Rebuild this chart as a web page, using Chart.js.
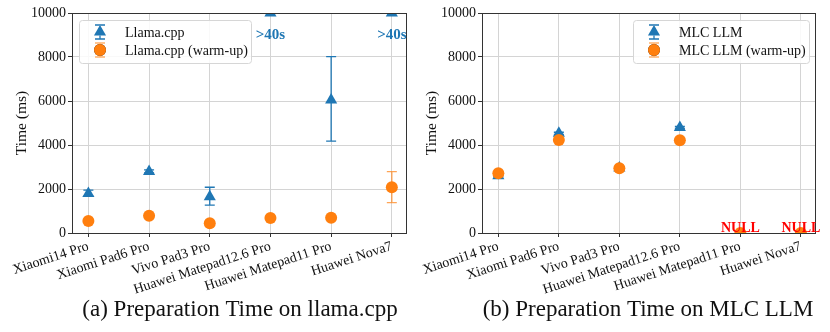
<!DOCTYPE html>
<html>
<head>
<meta charset="utf-8">
<script src="https://cdn.jsdelivr.net/npm/chart.js@4.4.0/dist/chart.umd.min.js"></script>
<style>
  html, body { margin: 0; padding: 0; background: #fff; }
  #wrap { position: relative; width: 830px; height: 332px; overflow: hidden; }
  .box { position: absolute; top: 0; height: 332px; }
</style>
</head>
<body>
<div id="wrap">
  <div class="box" style="left:0;width:415px"><canvas id="llamaChart"></canvas></div>
  <div class="box" style="left:410px;width:420px"><canvas id="mlcChart"></canvas></div>
</div>
<script>
// ---- data ----
const devices = ["Xiaomi14 Pro", "Xiaomi Pad6 Pro", "Vivo Pad3 Pro",
  "Huawei Matepad12.6 Pro", "Huawei Matepad11 Pro", "Huawei Nova7"];
const yTicks = [0, 2000, 4000, 6000, 8000, 10000];

// (a) llama.cpp, values in ms (>40s shown clipped at 10000)
const llamaTime = [1800, 2800, 1650, 10000, 6050, 10000];
const llamaLow = [1680, 2730, 1270, 10000, 4180, 10000];
const llamaHigh = [1950, 2870, 2080, 10000, 8020, 10000];
const llamaWarm = [550, 780, 440, 680, 690, 2080];
const llamaWarmLow = [520, 750, 410, 650, 660, 1380];
const llamaWarmHigh = [580, 810, 470, 710, 720, 2790];
const llamaNotes = [null, null, null, ">40s", null, ">40s"];

// (b) MLC LLM
const mlcTime = [2600, 4530, 2960, 4800, null, null];
const mlcLow = [2560, 4480, 2900, 4760, null, null];
const mlcHigh = [2640, 4580, 3020, 4840, null, null];
const mlcWarm = [2720, 4230, 2940, 4220, 0, 0];
const mlcWarmLow = [2690, 4200, 2910, 4190, 0, 0];
const mlcWarmHigh = [2750, 4260, 2970, 4250, 0, 0];
const mlcNotes = [null, null, null, null, "NULL", "NULL"];

const BLUE = "#1f77b4";
const ORANGE = "#ff7f0e";
const SERIF = '"Liberation Serif", "Times New Roman", serif';

function toPoints(arr) {
  return arr.map((v, i) => ({ x: i, y: v }));
}

// error bars drawn under the markers
const errorBars = {
  id: "errorBars",
  beforeDatasetsDraw(chart) {
    const { ctx, chartArea: a, scales } = chart;
    ctx.save();
    ctx.beginPath();
    ctx.rect(a.left, a.top, a.right - a.left, a.bottom - a.top);
    ctx.clip();
    chart.data.datasets.forEach((ds) => {
      ctx.strokeStyle = ds.errColor;
      ctx.lineWidth = 1.3;
      ds.data.forEach((p, i) => {
        if (p.y == null) return;
        const px = scales.x.getPixelForValue(p.x);
        const y1 = scales.y.getPixelForValue(ds.errLow[i]);
        const y2 = scales.y.getPixelForValue(ds.errHigh[i]);
        ctx.beginPath();
        ctx.moveTo(px, y1); ctx.lineTo(px, y2);
        ctx.moveTo(px - 5, y1); ctx.lineTo(px + 5, y1);
        ctx.moveTo(px - 5, y2); ctx.lineTo(px + 5, y2);
        ctx.stroke();
      });
    });
    ctx.restore();
  },
};

function drawSymbol(ctx, style, color, errColor, x, y) {
  ctx.strokeStyle = errColor;
  ctx.lineWidth = 1.3;
  ctx.beginPath();
  ctx.moveTo(x, y - 7); ctx.lineTo(x, y + 7);
  ctx.moveTo(x - 5, y - 7); ctx.lineTo(x + 5, y - 7);
  ctx.moveTo(x - 5, y + 7); ctx.lineTo(x + 5, y + 7);
  ctx.stroke();
  Chart.helpers.drawPoint(ctx, {
    pointStyle: style, radius: style === "triangle" ? 7 : 6,
    borderWidth: 0, rotation: 0,
  }, x, y);
  ctx.fillStyle = color;
  ctx.fill();
}

// frame, legend, annotations and caption
const decor = {
  id: "decor",
  afterDraw(chart, args, opts) {
    const { ctx, chartArea: a, scales } = chart;
    ctx.save();
    ctx.strokeStyle = "#333";
    ctx.lineWidth = 1;
    ctx.strokeRect(a.left + 0.5, a.top + 0.5, a.right - a.left - 1, a.bottom - a.top);

    // annotations
    ctx.font = "bold " + opts.noteSize + "px " + SERIF;
    ctx.fillStyle = opts.noteColor;
    ctx.textAlign = "center";
    ctx.textBaseline = "alphabetic";
    opts.notes.forEach((t, i) => {
      if (!t) return;
      ctx.fillText(t, scales.x.getPixelForValue(i), scales.y.getPixelForValue(opts.noteY));
    });

    // legend
    const L = opts.legend;
    ctx.fillStyle = "rgba(255,255,255,0.85)";
    ctx.strokeStyle = "#d6d6d6";
    ctx.lineWidth = 1;
    ctx.beginPath();
    ctx.roundRect(L.x + 0.5, L.y + 0.5, L.w, L.h, 3);
    ctx.fill();
    ctx.stroke();
    ctx.font = "14px " + SERIF;
    ctx.textAlign = "left";
    ctx.textBaseline = "middle";
    L.items.forEach((it, k) => {
      const yy = L.y + 12 + k * 18;
      drawSymbol(ctx, it.style, it.color, it.errColor, L.x + 21, yy);
      ctx.fillStyle = "#111";
      ctx.fillText(it.label, L.x + 46, yy + 1);
    });

    // caption
    ctx.font = "23px " + SERIF;
    ctx.fillStyle = "#111";
    ctx.textAlign = "center";
    ctx.textBaseline = "alphabetic";
    ctx.fillText(opts.caption, opts.captionX, 316);
    ctx.restore();
  },
};

function makeChart(id, blue, blueLow, blueHigh, orange, orangeLow, orangeHigh, decorOpts, padRight) {
  return new Chart(document.getElementById(id), {
    type: "scatter",
    data: {
      datasets: [
        {
          label: decorOpts.legend.items[0].label,
          data: toPoints(blue),
          errLow: blueLow, errHigh: blueHigh, errColor: BLUE,
          pointStyle: "triangle", pointRadius: 7, pointHoverRadius: 7,
          backgroundColor: BLUE, borderWidth: 0,
          clip: 0, order: 2,
        },
        {
          label: decorOpts.legend.items[1].label,
          data: toPoints(orange),
          errLow: orangeLow, errHigh: orangeHigh, errColor: "rgba(255,127,14,0.7)",
          pointStyle: "circle", pointRadius: 6, pointHoverRadius: 6,
          backgroundColor: ORANGE, borderWidth: 0,
          clip: 0, order: 1,
        },
      ],
    },
    options: {
      responsive: true,
      maintainAspectRatio: false,
      animation: false,
      layout: { padding: { top: 13, right: padRight, left: 0, bottom: 0 } },
      plugins: {
        legend: { display: false },
        tooltip: { enabled: false },
        decor: decorOpts,
      },
      scales: {
        x: {
          type: "linear",
          min: -0.27,
          max: 5.25,
          afterBuildTicks: (s) => { s.ticks = devices.map((d, i) => ({ value: i })); },
          afterFit: (s) => { s.height = 99; },
          ticks: {
            callback: (v) => devices[v],
            autoSkip: false,
            maxRotation: 18,
            minRotation: 18,
            padding: 1,
            color: "#111",
            font: { family: SERIF, size: 14 },
          },
          grid: { color: "#d4d4d4", tickColor: "#333", tickLength: 4 },
          border: { display: false },
        },
        y: {
          min: 0,
          max: 10000,
          afterBuildTicks: (s) => { s.ticks = yTicks.map((v) => ({ value: v })); },
          afterFit: (s) => { s.width = 72; },
          ticks: {
            callback: (v) => String(v),
            padding: 2,
            color: "#111",
            font: { family: SERIF, size: 14 },
          },
          grid: { color: "#d4d4d4", tickColor: "#333", tickLength: 4 },
          border: { display: false },
          title: {
            display: true,
            text: "Time (ms)",
            color: "#111",
            font: { family: SERIF, size: 15.5 },
            padding: { top: 13, bottom: 0 },
          },
        },
      },
    },
    plugins: [errorBars, decor],
  });
}

makeChart("llamaChart", llamaTime, llamaLow, llamaHigh, llamaWarm, llamaWarmLow, llamaWarmHigh, {
  notes: llamaNotes, noteY: 8800, noteColor: BLUE, noteSize: 15,
  caption: "(a) Preparation Time on llama.cpp", captionX: 240,
  legend: {
    x: 79, y: 20, w: 172, h: 43,
    items: [
      { label: "Llama.cpp", style: "triangle", color: BLUE, errColor: BLUE },
      { label: "Llama.cpp (warm-up)", style: "circle", color: ORANGE, errColor: "rgba(255,127,14,0.6)" },
    ],
  },
}, 8);

makeChart("mlcChart", mlcTime, mlcLow, mlcHigh, mlcWarm, mlcWarmLow, mlcWarmHigh, {
  notes: mlcNotes, noteY: 50, noteColor: "#ff0000", noteSize: 14,
  caption: "(b) Preparation Time on MLC LLM", captionX: 238,
  legend: {
    x: 223, y: 20, w: 176, h: 43,
    items: [
      { label: "MLC LLM", style: "triangle", color: BLUE, errColor: BLUE },
      { label: "MLC LLM (warm-up)", style: "circle", color: ORANGE, errColor: "rgba(255,127,14,0.6)" },
    ],
  },
}, 14);
</script>
</body>
</html>
